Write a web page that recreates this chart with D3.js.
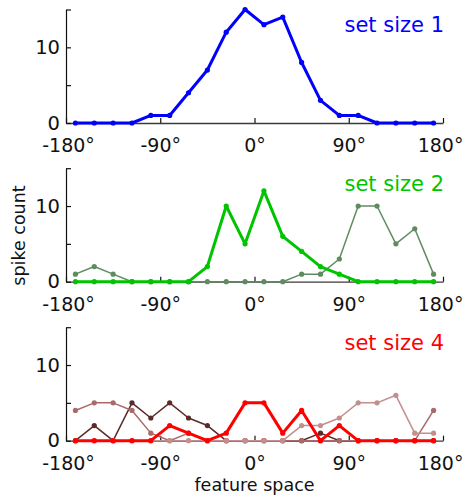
<!DOCTYPE html>
<html>
<head>
<meta charset="utf-8">
<script src="https://cdn.jsdelivr.net/npm/d3@7"></script>
<style>
  html, body { margin: 0; padding: 0; background: #fff; }
  svg { display: block; font-family: "DejaVu Sans", sans-serif; }
</style>
</head>
<body>
<svg id="chart" width="465" height="498"></svg>
<script>
// ---- data ----
const angles = [-171, -153, -135, -117, -99, -81, -63, -45, -27, -9, 9, 27, 45, 63, 81, 99, 117, 135, 153, 171];
const xTickValues = [-180, -90, 0, 90, 180];
const xTickLabels = ["-180°", "-90°", "0°", "90°", "180°"];
const yTickValues = [0, 5, 10, 15];
const yTickLabels = ["0", "", "10", ""];

const setSize1Target = [0, 0, 0, 0, 1, 1, 4, 7, 12, 15, 13, 14, 8, 3, 1, 1, 0, 0, 0, 0];

const setSize2Target = [0, 0, 0, 0, 0, 0, 0, 2, 10, 5, 12, 6, 4, 2, 1, 0, 0, 0, 0, 0];
const setSize2Other  = [1, 2, 1, 0, 0, 0, 0, 0, 0, 0, 0, 0, 1, 1, 3, 10, 10, 5, 7, 1];

const setSize4Target = [0, 0, 0, 0, 0, 2, 1, 0, 1, 5, 5, 1, 4, 0, 2, 0, 0, 0, 0, 0];
const setSize4OtherA = [0, 2, 0, 5, 3, 5, 3, 2, 0, 0, 0, 0, 0, 1, 0, 0, 0, 0, 0, 0];
const setSize4OtherB = [4, 5, 5, 4, 1, 0, 1, 0, 0, 0, 0, 0, 0, 0, 0, 0, 0, 0, 0, 4];
const setSize4OtherC = [0, 0, 0, 0, 0, 0, 0, 0, 0, 0, 0, 0, 2, 2, 3, 5, 5, 6, 1, 1];

const panelTitles = ["set size 1", "set size 2", "set size 4"];
const yLabel = "spike count";
const xLabel = "feature space";

// ---- layout ----
const svg = d3.select("#chart");
const x = d3.scaleLinear().domain([-180, 180]).range([66, 443]);
const panelZero = [123, 281.7, 440.7];
const panelH = 113.5;

const panels = [
  { title: panelTitles[0], titleColor: "#0000ff", series: [
      { values: setSize1Target, color: "#0000ff", bold: true } ] },
  { title: panelTitles[1], titleColor: "#00c400", series: [
      { values: setSize2Other, color: "#5f8c5f", bold: false },
      { values: setSize2Target, color: "#00c400", bold: true } ] },
  { title: panelTitles[2], titleColor: "#ff0000", series: [
      { values: setSize4OtherA, color: "#5c2a2a", bold: false },
      { values: setSize4OtherB, color: "#a86a6a", bold: false },
      { values: setSize4OtherC, color: "#c48e8e", bold: false },
      { values: setSize4Target, color: "#ff0000", bold: true } ] }
];

panels.forEach((p, i) => {
  const y0 = panelZero[i];
  const y = d3.scaleLinear().domain([0, 15]).range([y0, y0 - panelH]);
  const g = svg.append("g");

  // x axis
  const xa = g.append("g")
    .attr("transform", `translate(0,${y0})`)
    .call(d3.axisBottom(x).tickValues(xTickValues)
      .tickFormat((d, k) => xTickLabels[k])
      .tickSizeInner(-5).tickSizeOuter(0).tickPadding(16));
  xa.select(".domain").attr("stroke", "#3a3a3a").attr("stroke-width", 1.3);
  xa.selectAll(".tick line").attr("stroke", "#111").attr("stroke-width", 1.2);
  xa.selectAll(".tick text").attr("font-size", 19).attr("fill", "#111")
    .attr("font-family", "DejaVu Sans")
    .attr("dx", d => d === 180 ? -3 : (d === -180 ? 2 : 0));

  // y axis
  const ya = g.append("g")
    .attr("transform", `translate(${x(-180)},0)`)
    .call(d3.axisLeft(y).tickValues(yTickValues)
      .tickFormat((d, k) => yTickLabels[k])
      .tickSizeInner(-5).tickSizeOuter(0).tickPadding(6));
  ya.select(".domain").attr("stroke", "#111").attr("stroke-width", 1.2);
  ya.selectAll(".tick line").attr("stroke", "#111").attr("stroke-width", 1.2);
  ya.selectAll(".tick text").attr("font-size", 19.5).attr("fill", "#111")
    .attr("font-family", "DejaVu Sans");

  // series
  p.series.forEach(s => {
    const line = d3.line().x((d, k) => x(angles[k])).y(d => y(d));
    g.append("path").datum(s.values)
      .attr("d", line).attr("fill", "none")
      .attr("stroke", s.color)
      .attr("stroke-width", s.bold ? 3 : 1.5)
      .attr("stroke-linejoin", "round");
    g.selectAll(null).data(s.values).enter().append("circle")
      .attr("cx", (d, k) => x(angles[k]))
      .attr("cy", d => y(d))
      .attr("r", 2.6)
      .attr("fill", s.color);
  });

  // title
  g.append("text")
    .attr("x", 444).attr("y", y0 - 91)
    .attr("text-anchor", "end")
    .attr("font-size", 21)
    .attr("fill", p.titleColor)
    .text(p.title);
});

// y label
svg.append("text")
  .attr("transform", "translate(25,235.5) rotate(-90)")
  .attr("text-anchor", "middle")
  .attr("font-size", 17.5)
  .attr("fill", "#111")
  .text(yLabel);

// x label
svg.append("text")
  .attr("x", x(0)).attr("y", 491)
  .attr("text-anchor", "middle")
  .attr("font-size", 17.5)
  .attr("fill", "#111")
  .text(xLabel);
</script>
</body>
</html>
